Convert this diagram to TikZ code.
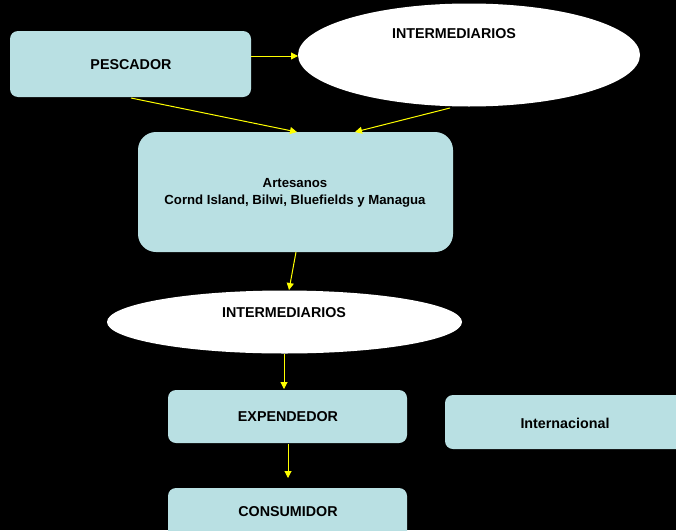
\documentclass[tikz,border=0pt]{standalone}
\usepackage{fontspec}
\setmainfont{Liberation Sans}
\usetikzlibrary{shapes.geometric,arrows.meta}
\definecolor{boxfill}{HTML}{B9E0E3}
\definecolor{arrowc}{HTML}{FFFF00}
\begin{document}
\begin{tikzpicture}[x=1pt,y=-1pt,
  box/.style={draw=none,fill=boxfill,rounded corners=#1,inner sep=0pt},
  box/.default=8pt,
  lbl/.style={font=\bfseries\fontsize{14.3}{16}\selectfont,text=black,align=center},
  oval/.style={ellipse,fill=white,draw=none,inner sep=0pt},
  conn/.style={draw=arrowc,line width=1pt,-{Triangle[length=7pt,width=7pt]}}]
\useasboundingbox[fill=black] (0,0) rectangle (676,530);
% shapes
\path[box] (10,31) rectangle (251,97);
\node[oval,minimum width=342pt,minimum height=103pt] (int1) at (469,55) {};
\path[box=18pt] (138,132) rectangle (453,252);
\node[oval,minimum width=355pt,minimum height=63pt] (int2) at (284.5,322) {};
\path[box] (168,390) rectangle (407,443);
\path[box] (445,395) rectangle (690,449);
\path[box] (168,488) rectangle (407,545);
% labels
\node[lbl] (lpesc) at (131,65) {PESCADOR};
\node[lbl] (lint1) at (454,34) {INTERMEDIARIOS};
\node[lbl,font=\bfseries\fontsize{13.2}{17}\selectfont] (lart) at (295,193) {Artesanos\\Cornd Island, Bilwi, Bluefields y Managua};
\node[lbl] (lint2) at (284,313) {INTERMEDIARIOS};
\node[lbl] (lexp) at (288,417) {EXPENDEDOR};
\node[lbl] (lintl) at (565,423) {Internacional};
\node[lbl] (lcons) at (288,512) {CONSUMIDOR};
% connector anchors
\coordinate (a1s) at (251,56); \coordinate (a1e) at (298,56);
\coordinate (a2s) at (131,98); \coordinate (a2e) at (297,132);
\coordinate (a3s) at (450,108); \coordinate (a3e) at (355,132);
\coordinate (a4s) at (296,252); \coordinate (a4e) at (289,290);
\coordinate (a5s) at (284,354); \coordinate (a5e) at (284,389);
\coordinate (a6s) at (288,444); \coordinate (a6e) at (288,478);
\draw[conn] (a1s) -- (a1e);
\draw[conn] (a2s) -- (a2e);
\draw[conn] (a3s) -- (a3e);
\draw[conn] (a4s) -- (a4e);
\draw[conn] (a5s) -- (a5e);
\draw[conn] (a6s) -- (a6e);
\end{tikzpicture}
\end{document}
